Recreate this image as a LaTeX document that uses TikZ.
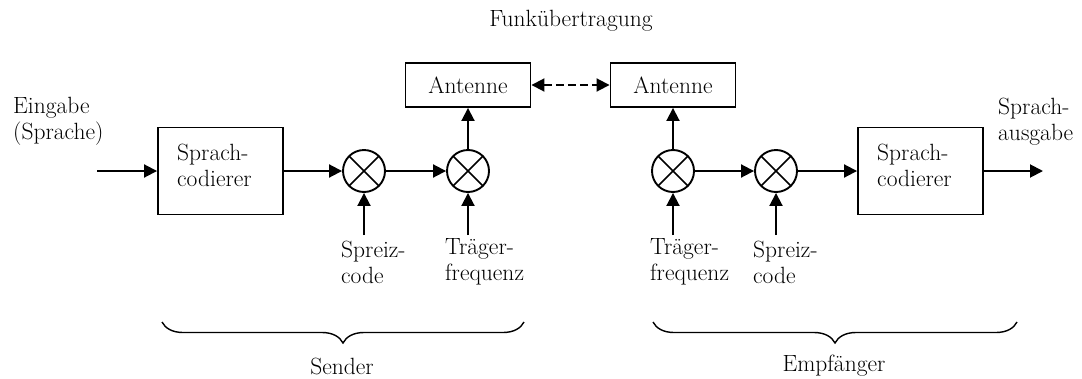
\documentclass[tikz,border=0pt]{standalone}
\usetikzlibrary{arrows.meta,decorations.pathreplacing}
\tikzset{
  txt/.style={font=\fontsize{23.5}{26}\selectfont, inner sep=0pt},
  box/.style={draw, line width=1.9pt, rectangle, inner sep=0pt},
  mix/.style={draw, line width=1.9pt, circle, minimum size=42pt, inner sep=0pt,
    path picture={\draw[line width=1.6pt] (path picture bounding box.north west) -- (path picture bounding box.south east)
      (path picture bounding box.north east) -- (path picture bounding box.south west);}},
  arr/.style={line width=1.9pt, -{Triangle[length=13pt,width=13pt]}},
  darr/.style={line width=1.9pt, dash pattern=on 8pt off 4pt, {Triangle[length=13pt,width=13pt]}-{Triangle[length=13pt,width=13pt]}},
  brc/.style={line width=1.4pt, decorate, decoration={brace, mirror, amplitude=21pt}}
}
\begin{document}
\begin{tikzpicture}[x=1pt,y=-1pt]
\useasboundingbox (0,0) rectangle (1082,378);
% boxes
\node[box, minimum width=125pt, minimum height=87pt] (sc1) at (220.5,171) {};
\node[box, minimum width=125pt, minimum height=87pt] (sc2) at (920.5,171) {};
\node[box, minimum width=125pt, minimum height=44pt, txt] (ant1) at (468,85) {Antenne};
\node[box, minimum width=125pt, minimum height=44pt, txt] (ant2) at (673,85) {Antenne};
\node[txt, anchor=west, align=left] (sc1t) at (177,165) {Sprach-\\codierer};
\node[txt, anchor=west, align=left] (sc2t) at (877,165) {Sprach-\\codierer};
% mixers
\node[mix] (m1) at (364,171) {};
\node[mix] (m2) at (468,171) {};
\node[mix] (m3) at (673,171) {};
\node[mix] (m4) at (776,171) {};
% free ends
\coordinate (in1) at (97,171);
\coordinate (out1) at (1043,171);
\coordinate (s1) at (364,235);
\coordinate (s2) at (468,235);
\coordinate (s3) at (673,235);
\coordinate (s4) at (776,235);
% connectors
\draw[arr] (in1) -- (sc1.west);
\draw[arr] (sc1.east) -- (m1.west);
\draw[arr] (m1.east) -- (m2.west);
\draw[arr] (m2.north) -- (ant1.south);
\draw[darr] (ant1.east) -- (ant2.west);
\draw[arr] (m3.north) -- (ant2.south);
\draw[arr] (m3.east) -- (m4.west);
\draw[arr] (m4.east) -- (sc2.west);
\draw[arr] (sc2.east) -- (out1);
\draw[arr] (s1) -- (m1.south);
\draw[arr] (s2) -- (m2.south);
\draw[arr] (s3) -- (m3.south);
\draw[arr] (s4) -- (m4.south);
% labels
\node[txt] (funk) at (571,21) {Funkübertragung};
\node[txt, anchor=west, align=left] (ein) at (13,121) {Eingabe\\(Sprache)};
\node[txt, anchor=west, align=left] (aus) at (998,122) {Sprach-\\ausgabe};
\node[txt, anchor=west, align=left] (l1) at (341,262) {Spreiz-\\code};
\node[txt, anchor=west, align=left] (l2) at (445,262) {Träger-\\frequenz};
\node[txt, anchor=west, align=left] (l3) at (650,262) {Träger-\\frequenz};
\node[txt, anchor=west, align=left] (l4) at (753,262) {Spreiz-\\code};
% braces
\coordinate (b1a) at (162,322);
\coordinate (b1b) at (524,322);
\coordinate (b2a) at (653,322);
\coordinate (b2b) at (1017,322);
\draw[brc] (b1a) -- (b1b);
\draw[brc] (b2a) -- (b2b);
\node[txt] (sender) at (342,366) {Sender};
\node[txt] (empf) at (834,366) {Empfänger};
\end{tikzpicture}
\end{document}
